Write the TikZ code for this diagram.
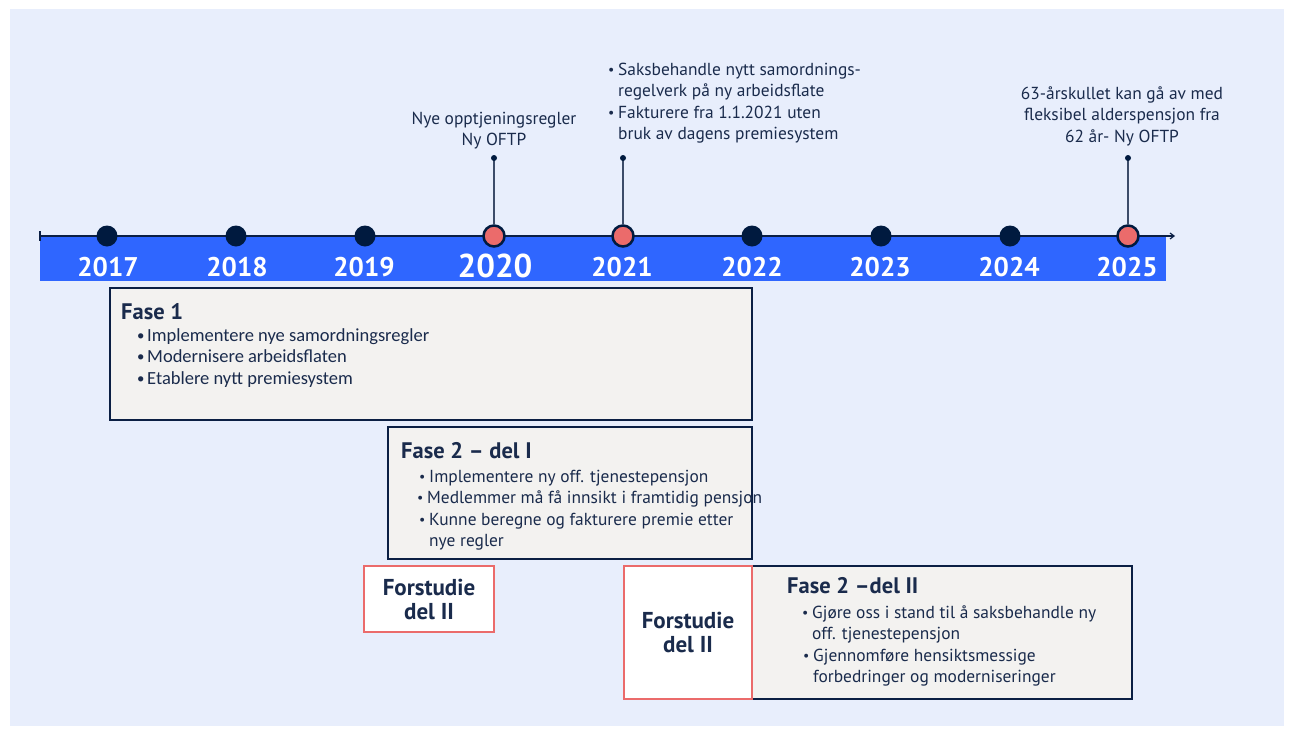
\documentclass[tikz,border=0pt]{standalone}
\usepackage{fontspec}
\setmainfont{PT Sans}
\newfontfamily\condfont{Carlito}
\usetikzlibrary{arrows.meta}
\definecolor{bgblue}{HTML}{E8EEFC}
\definecolor{band}{HTML}{2F66FF}
\definecolor{navy}{HTML}{0B1F44}
\definecolor{dotnavy}{HTML}{001A3F}
\definecolor{redc}{HTML}{EB6B6B}
\definecolor{boxfill}{HTML}{F3F2F0}
\definecolor{txt}{HTML}{1A2B4C}
\newcommand{\bul}{\makebox[10pt][l]{\raisebox{1pt}{\scalebox{0.8}{•}}}}
\newcommand{\cont}{\hspace*{10pt}}
\newcommand{\tstrut}{\rule{0pt}{15pt}}
\tikzset{
  yeardot/.style={circle,fill=dotnavy,minimum size=21pt,inner sep=0pt},
  reddot/.style={circle,fill=redc,draw=dotnavy,line width=2.5pt,minimum size=21pt,inner sep=0pt},
  tipdot/.style={circle,fill=dotnavy,minimum size=6pt,inner sep=0pt},
  yearlbl/.style={text=white,font=\fontsize{27}{27}\selectfont\bfseries,inner sep=0pt,anchor=base},
  phasebox/.style={draw=navy,fill=boxfill,line width=2.8pt},
  studybox/.style={draw=redc,fill=white,line width=2.8pt,align=center,text=txt,font=\fontsize{23}{24}\selectfont\bfseries},
  body/.style={text=txt,font=\fontsize{17.4}{21.5}\selectfont,inner sep=0pt},
  ttlstyle/.style={text=txt,font=\fontsize{22.5}{24}\selectfont\bfseries,inner sep=0pt,anchor=base west},
  stem/.style={draw=navy!80,line width=1.2pt}
}
\begin{document}
\begin{tikzpicture}[x=1pt,y=-1pt]
\useasboundingbox (0,0) rectangle (1294,734);
\fill[white] (0,0) rectangle (1294,734);
\fill[bgblue] (10,9) rectangle (1284,726);
% band
\fill[band] (40,236) rectangle (1166,281);
\coordinate (axL) at (40,236);
\coordinate (axR) at (1175,236);
\draw[navy,line width=1.2pt,-{Straight Barb[length=4pt,width=6pt]}] (axL) -- (axR);
\draw[navy,line width=1.5pt] (40,231) -- (40,241);
% dots
\node[yeardot] (d2017) at (107,236) {};
\node[yeardot] (d2018) at (236,236) {};
\node[yeardot] (d2019) at (365,236) {};
\node[yeardot] (d2022) at (752,236) {};
\node[yeardot] (d2023) at (881,236) {};
\node[yeardot] (d2024) at (1010,236) {};
% stems
\coordinate (t2020) at (494,158);
\coordinate (t2021) at (623,158);
\coordinate (t2025) at (1128,158);
\node[reddot] (d2020) at (494,236) {};
\node[reddot] (d2021) at (623,236) {};
\node[reddot] (d2025) at (1128,236) {};
\draw[stem] (d2020) -- (t2020);
\draw[stem] (d2021) -- (t2021);
\draw[stem] (d2025) -- (t2025);
\node[tipdot] (p2020) at (t2020) {};
\node[tipdot] (p2021) at (t2021) {};
\node[tipdot] (p2025) at (t2025) {};
% years
\node[yearlbl] (y2017) at (108,276) {2017};
\node[yearlbl] (y2018) at (237,276) {2018};
\node[yearlbl] (y2019) at (364,276) {2019};
\node[yearlbl,font=\fontsize{33}{33}\selectfont\bfseries] (y2020) at (495,277) {2020};
\node[yearlbl] (y2021) at (622,276) {2021};
\node[yearlbl] (y2022) at (752,276) {2022};
\node[yearlbl] (y2023) at (880,276) {2023};
\node[yearlbl] (y2024) at (1009,276) {2024};
\node[yearlbl] (y2025) at (1127,276) {2025};
% top labels
\node[body,align=center,anchor=north] (l2020) at (494,124-15) {\tstrut Nye opptjeningsregler\\Ny OFTP};
\node[body,align=left,anchor=north west] (l2021) at (608,75-15) {\tstrut\bul Saksbehandle nytt samordnings-\\\cont regelverk på ny arbeidsflate\\\bul Fakturere fra 1.1.2021 uten\\\cont bruk av dagens premiesystem};
\node[body,align=center,anchor=north] (l2025) at (1122,99-15) {\tstrut 63-årskullet kan gå av med\\fleksibel alderspensjon fra\\62 år- Ny OFTP};
% phase 1
\draw[phasebox] (110,288) rectangle (752,420);
\node[ttlstyle] (f1t) at (121,319) {Fase 1};
\node[body,anchor=north west,align=left,font=\condfont\fontsize{18.5}{21.5}\selectfont] (f1) at (137,341-15) {\tstrut\bul Implementere nye samordningsregler\\\bul Modernisere arbeidsflaten\\\bul Etablere nytt premiesystem};
% phase 2 del I
\draw[phasebox] (388,427) rectangle (752,559);
\node[ttlstyle] (f2at) at (401,458) {Fase 2 – del I};
\node[body,anchor=north west,align=left] (f2a) at (417,482-15) {\tstrut\hspace*{2pt}\bul Implementere ny off. tjenestepensjon\\\bul Medlemmer må få innsikt i framtidig pensjon\\\hspace*{2pt}\bul Kunne beregne og fakturere premie etter\\\hspace*{2pt}\cont nye regler};
% phase 2 del II
\draw[phasebox] (752,566) rectangle (1132,699);
\node[ttlstyle] (f2bt) at (787,593) {Fase 2 –del II};
\node[body,anchor=north west,align=left] (f2b) at (802,618-15) {\tstrut\bul Gjøre oss i stand til å saksbehandle ny\\\cont off. tjenestepensjon\\\hspace*{1pt}\bul Gjennomføre hensiktsmessige\\\hspace*{1pt}\cont forbedringer og moderniseringer};
% study boxes
\node[studybox,minimum width=130pt,minimum height=66pt] (s1) at (429,599) {Forstudie\\del II};
\node[studybox,minimum width=128pt,minimum height=133pt] (s2) at (688,632.5) {Forstudie\\del II};
\end{tikzpicture}
\end{document}
